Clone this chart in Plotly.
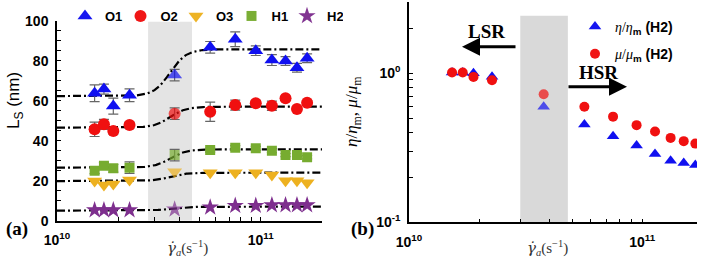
import numpy as np
import plotly.graph_objects as go

# ---------------- data ----------------
shear_rate = [1.53e10, 1.70e10, 1.89e10, 2.27e10, 3.78e10, 5.65e10,
              7.50e10, 9.46e10, 1.135e11, 1.324e11, 1.507e11, 1.69e11]

O1 = [63.7, 65.8, 57.3, 62.7, 72.8, 86.7, 90.7, 85.0, 80.3, 79.8, 76.5, 81.2]
O1_err = [4.2, 2.5, 4.0, 3.2, 2.9, 2.9, 3.7, 2.4, 2.7, 2.2, 2.2, 2.2]
O2 = [45.7, 48.2, 44.8, 47.8, 53.5, 54.5, 57.8, 58.7, 57.5, 61.2, 55.8, 59.0]
O2_err = [3.6, 2.5, 1.5, 1.5, 2.9, 4.8, 2.5, 1.5, 2.3, 1.0, 1.0, 1.0]
O3 = [19.8, 17.8, 18.3, 20.3, 24.5, 24.0, 24.0, 24.0, 22.8, 20.0, 20.0, 19.0]
H1 = [25.0, 27.5, 26.2, 26.5, 32.8, 35.3, 36.5, 36.2, 35.0, 32.8, 32.8, 31.7]
H1_err = [1.5, 1.5, 1.9, 2.9, 2.9, 1.0, 1.0, 1.0, 1.0, 0.8, 0.8, 0.8]
H2 = [5.3, 5.3, 5.3, 5.3, 5.7, 6.7, 7.5, 7.5, 7.8, 7.8, 7.8, 7.8]

# fitted plateaus (low / high shear) of the dash-dot fit lines
series_names = ["O1", "O2", "O3", "H1", "H2"]
fit_low = [62.3, 46.5, 19.8, 26.5, 5.0]
fit_high = [85.7, 57.0, 24.0, 35.7, 7.0]
fit_center_log = 10.555
fit_width_log = 0.04

eta_ratio = [1.01, 1.01, 1.00, 0.945, 0.596, 0.453, 0.378, 0.327, 0.287, 0.259, 0.250, 0.242]
mu_ratio = [1.01, 1.01, 0.944, 0.897, 0.722, 0.596, 0.511, 0.448, 0.406, 0.368, 0.350, 0.337]

band_a = [2.8e10, 4.6e10]
band_b = [3.0e10, 4.8e10]

# ---------------- styling ----------------
W, H = 704, 275
def px(x): return x / W
def py(y): return 1 - y / H

SANS = "Liberation Sans"
SERIF = "Liberation Serif"
colors = {"O1": "#1010F0", "O2": "#F01010", "O3": "#EDB120", "H1": "#77AC30", "H2": "#7E2F8E"}
symbols = {"O1": "triangle-up", "O2": "circle", "O3": "triangle-down", "H1": "square", "H2": "star"}
sizes = {"O1": 13, "O2": 12, "O3": 13, "H1": 10, "H2": 13}
values = {"O1": O1, "O2": O2, "O3": O3, "H1": H1, "H2": H2}
errors = {"O1": O1_err, "O2": O2_err, "H1": H1_err}
opac = [1, 1, 1, 1, 0.7, 1, 1, 1, 1, 1, 1, 1]

fig = go.Figure()

# shaded bands
fig.add_trace(go.Scatter(x=[band_a[0], band_a[1], band_a[1], band_a[0], band_a[0]],
                         y=[0, 0, 99.5, 99.5, 0], fill="toself", fillcolor="#e4e4e4",
                         line=dict(width=0), mode="lines", showlegend=False, hoverinfo="skip",
                         xaxis="x", yaxis="y"))
fig.add_trace(go.Scatter(x=[band_b[0], band_b[1], band_b[1], band_b[0], band_b[0]],
                         y=[0.1, 0.1, 2.43, 2.43, 0.1], fill="toself", fillcolor="#d9d9d9",
                         line=dict(width=0), mode="lines", showlegend=False, hoverinfo="skip",
                         xaxis="x2", yaxis="y2"))

# fit lines
xfit = np.logspace(10, 11.301, 300)
for name, lo, hi in zip(series_names, fit_low, fit_high):
    yfit = lo + (hi - lo) / (1 + np.exp(-(np.log10(xfit) - fit_center_log) / fit_width_log))
    fig.add_trace(go.Scatter(x=xfit, y=yfit, mode="lines",
                             line=dict(color="black", width=2.2, dash="8px,3px,2px,3px"),
                             showlegend=False, hoverinfo="skip", xaxis="x", yaxis="y"))

# data points panel (a)
for name in series_names:
    err = errors.get(name)
    fig.add_trace(go.Scatter(
        x=shear_rate, y=values[name], mode="markers", name=name,
        marker=dict(symbol=symbols[name], size=sizes[name], color=colors[name],
                    opacity=opac, line=dict(width=0)),
        error_y=(dict(type="data", array=err, visible=True, color="#666666",
                      thickness=1.2, width=5) if err else None),
        xaxis="x", yaxis="y", legend="legend"))

# panel (b)
fig.add_trace(go.Scatter(
    x=shear_rate, y=eta_ratio, mode="markers",
    name='<span style="font-family:Liberation Serif"><i>η</i>/<i>η</i></span><sub><b>m</b></sub><b> (H2)</b>',
    marker=dict(symbol="triangle-up", size=11, color="#1010F0", opacity=opac, line=dict(width=0)),
    xaxis="x2", yaxis="y2", legend="legend2", legendgroup="a"))
fig.add_trace(go.Scatter(
    x=shear_rate, y=mu_ratio, mode="markers",
    name='<span style="font-family:Liberation Serif"><i>μ</i>/<i>μ</i></span><sub><b>m</b></sub><b> (H2)</b>',
    marker=dict(symbol="circle", size=10, color="#F01010", opacity=opac, line=dict(width=0)),
    xaxis="x2", yaxis="y2", legend="legend2", legendgroup="b"))

# ---------------- axes ----------------
xa_ticks = [k * 1e10 for k in range(1, 10)] + [1e11, 2e11]
xa_text = ["<b>10<sup>10</sup></b>"] + [""] * 8 + ["<b>10<sup>11</sup></b>", ""]
ya_ticks = list(range(0, 101, 5))
ya_text = [f"<b>{v}</b>" if v % 20 == 0 else "" for v in ya_ticks]

xb_ticks = [k * 1e10 for k in range(1, 10)] + [1e11]
xb_text = ["<b>10<sup>10</sup></b>"] + [""] * 8 + ["<b>10<sup>11</sup></b>"]
yb_ticks = [k * 0.1 for k in range(1, 10)] + [1, 2, 3]
yb_text = ["<b>10<sup>-1</sup></b>"] + [""] * 8 + ["<b>10<sup>0</sup></b>", "", ""]

common = dict(showgrid=False, zeroline=False, showline=True, linecolor="black", linewidth=1.5,
              ticks="inside", ticklen=4, tickcolor="black", tickwidth=1, automargin=False,
              tickfont=dict(family=SANS, size=14, color="black"))

fig.update_layout(
    width=W, height=H, margin=dict(l=0, r=0, t=0, b=0, autoexpand=False),
    paper_bgcolor="white", plot_bgcolor="white",
    xaxis=dict(type="log", range=[10, 11.301], domain=[px(57), px(322)],
               tickvals=xa_ticks, ticktext=xa_text, anchor="y", ticklabelstandoff=6, **common),
    yaxis=dict(range=[0, 100], domain=[py(220.7), py(20.7)], tickvals=ya_ticks, ticktext=ya_text,
               anchor="x", ticklabelstandoff=4, **common),
    xaxis2=dict(type="log", range=[10, 11.235], domain=[px(409), px(697)],
                tickvals=xb_ticks, ticktext=xb_text, anchor="y2", ticklabelstandoff=6, **common),
    yaxis2=dict(type="log", range=[-1, 0.477], domain=[py(222.3), py(2)], tickvals=yb_ticks,
                ticktext=yb_text, anchor="x2", ticklabelstandoff=4, **common),
    legend=dict(orientation="h", x=px(65), y=py(1), xanchor="left", yanchor="top",
                font=dict(family=SANS, size=13, color="black", weight="bold"),
                bgcolor="rgba(0,0,0,0)", entrywidth=10.5, entrywidthmode="pixels", itemwidth=30),
    legend2=dict(orientation="v", x=px(575), y=py(11), xanchor="left", yanchor="top",
                 font=dict(family=SANS, size=14, color="black"), tracegroupgap=6,
                 bgcolor="rgba(0,0,0,0)", itemwidth=30),
    showlegend=True,
)

ann = []
def text(x, y, t, size, family, **kw):
    color = kw.pop("color", "black")
    ann.append(dict(x=px(x), y=py(y), xref="paper", yref="paper", text=t, showarrow=False,
                    xanchor="center", yanchor="middle",
                    font=dict(family=family, size=size, color=color), **kw))

gdot = '<span style="font-family:DejaVu Serif"><i>γ̇</i></span>'
text(17, 229, "<b>(a)</b>", 19, SERIF)
text(362, 229, "<b>(b)</b>", 19, SERIF)
text(15, 100, "L<sub>S</sub> (nm)", 17, SANS, textangle=-90)
text(187, 248, gdot + "<sub><i>a</i></sub>(s<sup>−1</sup>)", 15, SERIF, color="#333333")
text(547, 248, gdot + "<sub><i>a</i></sub>(s<sup>−1</sup>)", 15, SERIF, color="#333333")
text(353, 112, "<i>η</i>/<i>η</i><sub>m</sub>, <i>μ</i>/<i>μ</i><sub>m</sub>", 17, SERIF, textangle=-90)
text(486, 32, "<b>LSR</b>", 19, SERIF)
text(598, 72, "<b>HSR</b>", 19, SERIF)

# arrows (tail offset given in pixels from the head)
for (x0, x1, y) in [(517, 462, 46.7), (567, 627, 86.7)]:
    ann.append(dict(x=px(x1), y=py(y), ax=x0 - x1, ay=0, xref="paper", yref="paper",
                    axref="pixel", ayref="pixel", showarrow=True, arrowhead=2, arrowsize=1.2,
                    arrowwidth=3, arrowcolor="black", text=""))

fig.update_layout(annotations=ann)
fig.write_html("out.html", config={"displayModeBar": False},
               post_script="document.body.style.margin='0';")
